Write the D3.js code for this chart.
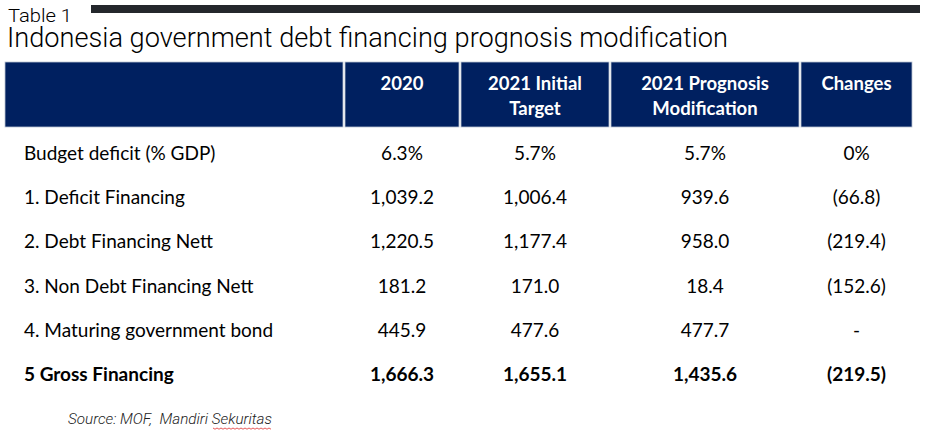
<!DOCTYPE html>
<html>
<head>
<meta charset="utf-8">
<script src="https://cdn.jsdelivr.net/npm/d3@7"></script>
<style>
  html, body { margin: 0; padding: 0; background: #fff; }
  svg { display: block; }
</style>
</head>
<body>
<div id="chart"></div>
<script>
// ***************数据*******************
const tableNo = 'Table 1';
const title = 'Indonesia government debt financing prognosis modification';
const source = 'Source: MOF,\u00a0 Mandiri Sekuritas';

const columns = [[''], ['2020'], ['2021 Initial', 'Target'], ['2021 Prognosis', 'Modification'], ['Changes']];
const rowLabels = [
  'Budget deficit (% GDP)',
  '1. Deficit Financing',
  '2. Debt Financing Nett',
  '3. Non Debt Financing Nett',
  '4. Maturing government bond',
  '5 Gross Financing'
];
const v2020 = ['6.3%', '1,039.2', '1,220.5', '181.2', '445.9', '1,666.3'];
const v2021Target = ['5.7%', '1,006.4', '1,177.4', '171.0', '477.6', '1,655.1'];
const v2021Prognosis = ['5.7%', '939.6', '958.0', '18.4', '477.7', '1,435.6'];
const vChanges = ['0%', '(66.8)', '(219.4)', '(152.6)', '-', '(219.5)'];
const boldRows = ['5 Gross Financing'];

// ***************布局*******************
const width = 927;
const height = 436;
const navy = '#002060';
const colEdges = [5, 344, 460, 610, 800, 913]; // 表头各列边界
const headTop = 62;
const headBottom = 127;
const narrowFont = 'Roboto, "Liberation Sans", sans-serif';

const node = document.getElementById('chart');
const svg = d3.select(node).append('svg')
  .attr('width', width)
  .attr('height', height);

// 列比例尺
const colIdx = d3.range(columns.length);
const colLeft = d3.scaleOrdinal().domain(colIdx).range(colEdges.slice(0, -1));
const colRight = d3.scaleOrdinal().domain(colIdx).range(colEdges.slice(1));
const colMid = (i) => (colLeft(i) + colRight(i)) / 2;

// 行比例尺
const y = d3.scaleBand()
  .domain(rowLabels)
  .range([133, 133 + 44.2 * rowLabels.length])
  .paddingInner(0);

// 顶部黑条
svg.append('rect')
  .attr('x', 91).attr('y', 5)
  .attr('width', 829).attr('height', 8)
  .attr('fill', '#24272c');

svg.append('text')
  .attr('x', 8).attr('y', 22)
  .attr('font-family', narrowFont)
  .attr('font-weight', 300)
  .attr('font-size', 18)
  .attr('textLength', 64)
  .attr('lengthAdjust', 'spacingAndGlyphs')
  .attr('fill', '#000')
  .text(tableNo);

svg.append('text')
  .attr('x', 7).attr('y', 47)
  .attr('font-family', narrowFont)
  .attr('font-weight', 300)
  .attr('font-size', 27.5)
  .attr('textLength', 721)
  .attr('lengthAdjust', 'spacingAndGlyphs')
  .attr('fill', '#000')
  .text(title);

// 表头
const head = svg.append('g').attr('class', 'head');
head.selectAll('rect')
  .data(colIdx)
  .enter()
  .append('rect')
  .attr('x', (d) => colLeft(d) + (d ? 1 : 0))
  .attr('y', headTop)
  .attr('width', (d) => colRight(d) - colLeft(d) - (d ? 2 : 1))
  .attr('height', headBottom - headTop)
  .attr('fill', navy)
  .attr('stroke', '#b9c3d3')
  .attr('stroke-width', 0.8);

head.selectAll('text')
  .data(colIdx.slice(1))
  .enter()
  .append('text')
  .attr('x', (d) => colMid(d))
  .attr('y', 90)
  .attr('text-anchor', 'middle')
  .attr('font-family', 'Lato, "Open Sans", sans-serif')
  .attr('font-weight', 700)
  .attr('font-size', 18.5)
  .attr('fill', '#fff')
  .selectAll('tspan')
  .data((d) => columns[d])
  .enter()
  .append('tspan')
  .attr('x', function () { return d3.select(this.parentNode).attr('x'); })
  .attr('dy', (d, i) => (i ? 25 : 0))
  .text((d) => d);

// 表体
const seriesCols = [v2020, v2021Target, v2021Prognosis, vChanges];
const body = svg.append('g').attr('class', 'body')
  .attr('font-family', 'Lato, "Open Sans", sans-serif')
  .attr('font-size', 19)
  .attr('fill', '#000');

const rows = body.selectAll('.row')
  .data(rowLabels)
  .enter()
  .append('g')
  .attr('class', 'row')
  .attr('transform', (d) => `translate(0, ${y(d) + 27})`)
  .attr('font-weight', (d) => (boldRows.includes(d) ? 700 : 400));

rows.append('text')
  .attr('x', 24)
  .text((d) => d);

seriesCols.forEach((vals, c) => {
  rows.append('text')
    .attr('x', colMid(c + 1))
    .attr('text-anchor', 'middle')
    .text((d, i) => vals[i]);
});

// 来源
svg.append('text')
  .attr('x', 68).attr('y', 424)
  .attr('font-family', narrowFont)
  .attr('font-weight', 300)
  .attr('font-style', 'italic')
  .attr('font-size', 15)
  .attr('textLength', 204)
  .attr('lengthAdjust', 'spacingAndGlyphs')
  .attr('fill', '#222')
  .text(source);

// 拼写检查波浪线
const wave = d3.range(213, 273, 2).map((x, i) => [x, 428 + (i % 2 ? 1.2 : 0)]);
svg.append('path')
  .attr('d', d3.line()(wave))
  .attr('fill', 'none')
  .attr('stroke', '#e03030')
  .attr('stroke-width', 0.8);
</script>
</body>
</html>
